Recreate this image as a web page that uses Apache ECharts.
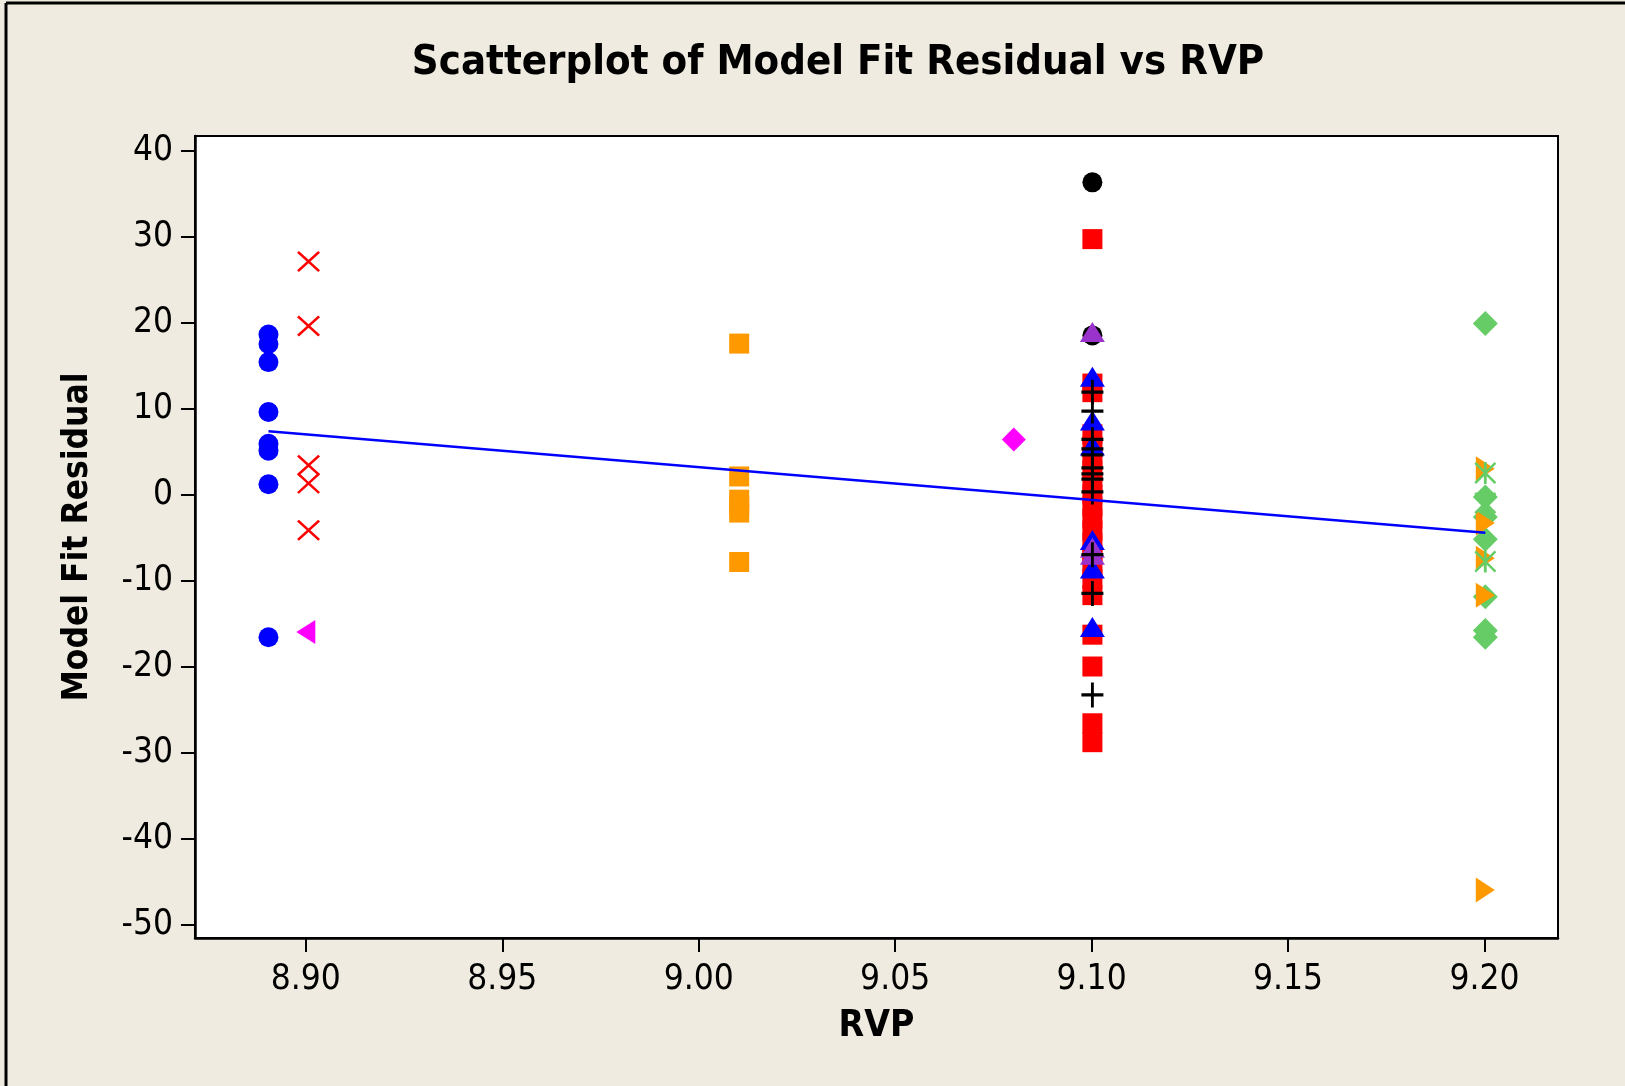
<!DOCTYPE html>
<html>
<head>
<meta charset="utf-8">
<script src="https://cdn.jsdelivr.net/npm/echarts@6/dist/echarts.min.js"></script>
<style>
html,body{margin:0;padding:0;background:#EFEBE0;}
#main{width:1625px;height:1086px;}
</style>
</head>
<body>
<div id="main"></div>
<script>
// ---- tick labels ----
const rvpTicks = [8.90, 8.95, 9.00, 9.05, 9.10, 9.15, 9.20];
const residualTicks = [-50, -40, -30, -20, -10, 0, 10, 20, 30, 40];

// ---- groups (RVP value + residuals) ----
const rvpBlueCircle = 8.8905;
const blueCircles = [18.6, 17.5, 15.4, 9.6, 5.9, 5.1, 1.2, -16.6];
const rvpRedX = 8.9007;
const redXs = [27.1, 19.6, 3.4, 1.3, -4.15];
const rvpMagentaLeft = 8.9;
const magentaLefts = [-16.0];
const rvpOrangeSquare = 9.0103;
const orangeSquares = [17.55, 2.1, -0.6, -1.3, -2.1, -7.85];
const rvpMagentaDiamond = 9.0802;
const magentaDiamonds = [6.4];
const rvpCol910 = 9.1002;
const blackCircles = [36.3, 18.5];
const redSquares = [29.7, 12.9, 11.9, 7.0, 5.6, 4.2, 2.8, 1.4, 0.0, -1.4, -2.8, -4.2, -5.6, -7.0, -8.4, -9.8, -11.7, -16.3, -20.0, -26.6, -28.8];
const blueTriangles = [13.7, 8.6, 5.7, -5.3, -8.6, -15.4];
const purpleTriangles = [18.9, -6.2, -7.0];
const blackPluses = [11.9, 9.7, 6.4, 5.3, 4.6, 3.1, 2.4, 1.8, 0.3, -7.0, -11.5, -23.3];
const rvpCol920 = 9.2002;
const greenDiamonds = [19.9, -0.3, -2.6, -5.2, -11.9, -15.8, -16.6];
const orangeRights = [3.0, -3.3, -7.4, -11.7, -46.0];
const greenAsterisks = [2.5, -1.0, -7.8];

// ---- fitted line endpoints ----
const fitX = [8.8905, 9.2002];
const fitY = [7.35, -4.45];

const pts = (x, ys) => ys.map(y => [x, y]);

const SYM_X = 'path://M0,1.6 L1.6,0 L10,8.4 L18.4,0 L20,1.6 L11.6,10 L20,18.4 L18.4,20 L10,11.6 L1.6,20 L0,18.4 L8.4,10 Z';
const SYM_PLUS = 'path://M8.7,0 L11.3,0 L11.3,8.7 L20,8.7 L20,11.3 L11.3,11.3 L11.3,20 L8.7,20 L8.7,11.3 L0,11.3 L0,8.7 L8.7,8.7 Z';
const SYM_AST = 'path://M0,1.6 L1.6,0 L10,8.4 L18.4,0 L20,1.6 L11.6,10 L20,18.4 L18.4,20 L10,11.6 L1.6,20 L0,18.4 L8.4,10 Z M8.7,0 L11.3,0 L11.3,20 L8.7,20 Z';
const SYM_LEFT = 'path://M20,0 L0,10 L20,20 Z';
const SYM_RIGHT = 'path://M0,0 L20,10 L0,20 Z';

function sc(name, data, symbol, size, color) {
  return {
    name, type: 'scatter', data, symbol, symbolSize: size,
    itemStyle: { color: color, opacity: 1 },
    emphasis: { disabled: true },
    animation: false
  };
}

const FONT = '"DejaVu Sans Condensed", "DejaVu Sans", sans-serif';

const chart = echarts.init(document.getElementById('main'), null, { renderer: 'canvas' });
chart.setOption({
  backgroundColor: '#EFEBE0',
  animation: false,
  title: {
    text: 'Scatterplot of Model Fit Residual vs RVP',
    left: 833, top: 37, textAlign: 'center',
    textStyle: { fontFamily: FONT, fontWeight: 'bold', fontSize: 41.5, color: '#000' }
  },
  graphic: [
    { type: 'line', shape: { x1: 6, y1: 3, x2: 1625, y2: 3 }, style: { stroke: '#000', lineWidth: 3 } },
    { type: 'line', shape: { x1: 6, y1: 3, x2: 6, y2: 1086 }, style: { stroke: '#000', lineWidth: 3 } }
  ],
  grid: {
    left: 195, right: 67, top: 136, bottom: 148,
    show: true, backgroundColor: '#FFFFFF', borderColor: '#000', borderWidth: 2
  },
  xAxis: {
    type: 'value', min: 8.8718, max: 9.2187,
    name: 'RVP', nameLocation: 'middle', nameGap: 70,
    nameTextStyle: { fontFamily: FONT, fontWeight: 'bold', fontSize: 37, color: '#000' },
    axisLine: { show: true, onZero: false, lineStyle: { color: '#000', width: 2.5 } },
    axisTick: { show: true, length: 14, customValues: rvpTicks, lineStyle: { color: '#000', width: 2 } },
    axisLabel: { customValues: rvpTicks, margin: 24, fontFamily: FONT, fontSize: 35, color: '#000',
      formatter: v => v.toFixed(2) },
    splitLine: { show: false }
  },
  yAxis: {
    type: 'value', min: -51.57, max: 41.69,
    name: 'Model Fit Residual', nameLocation: 'middle', nameGap: 100, nameRotate: 90,
    nameTextStyle: { fontFamily: FONT, fontWeight: 'bold', fontSize: 35, color: '#000' },
    axisLine: { show: true, onZero: false, lineStyle: { color: '#000', width: 2.5 } },
    axisTick: { show: true, length: 14, customValues: residualTicks, lineStyle: { color: '#000', width: 2 } },
    axisLabel: { customValues: residualTicks, margin: 22, fontFamily: FONT, fontSize: 35, color: '#000' },
    splitLine: { show: false }
  },
  series: [
    { type: 'line', data: fitX.map((x, i) => [x, fitY[i]]), symbol: 'none',
      lineStyle: { color: '#0000FF', width: 2.4 }, animation: false, silent: true },
    sc('blueCircles', pts(rvpBlueCircle, blueCircles), 'circle', 20, '#0000FF'),
    sc('redXs', pts(rvpRedX, redXs), SYM_X, [23, 21], '#FF0000'),
    sc('magentaLefts', pts(rvpMagentaLeft, magentaLefts), SYM_LEFT, [19, 24], '#FF00FF'),
    sc('orangeSquares', pts(rvpOrangeSquare, orangeSquares), 'rect', 20, '#FF9900'),
    sc('magentaDiamonds', pts(rvpMagentaDiamond, magentaDiamonds), 'diamond', 24, '#FF00FF'),
    sc('blackCircles', pts(rvpCol910, blackCircles), 'circle', 20, '#000000'),
    sc('redSquares', pts(rvpCol910, redSquares), 'rect', 20, '#FF0000'),
    sc('blueTriangles', pts(rvpCol910, blueTriangles), 'triangle', [25, 20], '#0000FF'),
    sc('purpleTriangles', pts(rvpCol910, purpleTriangles), 'triangle', [25, 20], '#9933CC'),
    sc('blackPluses', pts(rvpCol910, blackPluses), SYM_PLUS, [22, 25], '#000000'),
    sc('greenDiamonds', pts(rvpCol920, greenDiamonds), 'diamond', 25, '#66CC66'),
    sc('orangeRights', pts(rvpCol920, orangeRights), SYM_RIGHT, [19, 25], '#FF9900'),
    sc('greenAsterisks', pts(rvpCol920, greenAsterisks), SYM_AST, [22, 22], '#66CC66')
  ]
});
</script>
</body>
</html>
